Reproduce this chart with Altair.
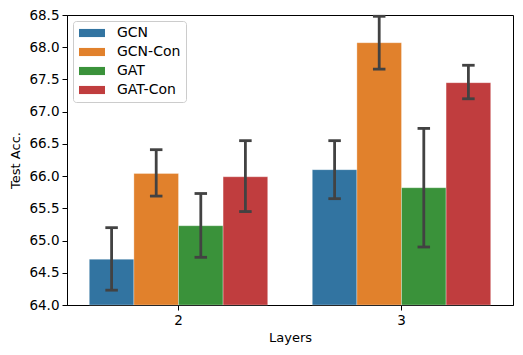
import altair as alt
import pandas as pd

layers = ["2", "3"]
models = ["GCN", "GCN-Con", "GAT", "GAT-Con"]
colors = ["#3274a1", "#e1812c", "#3a923a", "#c03d3e"]
mean_2 = [64.71, 66.04, 65.23, 65.99]
low_2 = [64.23, 65.69, 64.74, 65.45]
high_2 = [65.20, 66.41, 65.73, 66.55]
mean_3 = [66.10, 68.07, 65.82, 67.45]
low_3 = [65.65, 67.66, 64.90, 67.20]
high_3 = [66.55, 68.48, 66.74, 67.72]
y_ticks = [64.0, 64.5, 65.0, 65.5, 66.0, 66.5, 67.0, 67.5, 68.0, 68.5]

rows = []
for lay, means, lows, highs in [("2", mean_2, low_2, high_2), ("3", mean_3, low_3, high_3)]:
    for m, v, lo, hi in zip(models, means, lows, highs):
        rows.append({"Layers": lay, "model": m, "acc": v, "lo": lo, "hi": hi})
df = pd.DataFrame(rows)

FONT = "DejaVu Sans"
FS = 13
TFS = 13.5
LFS = 14

x_axis = alt.Axis(labelAngle=0, labelFont=FONT, labelFontSize=TFS, labelColor="black",
                  titleFont=FONT, titleFontSize=FS, titleFontWeight="normal", titleColor="black",
                  tickColor="black", domainColor="black", tickSize=5, labelPadding=3,
                  titlePadding=5, grid=False)
y_axis = alt.Axis(values=y_ticks, format=".1f", labelFont=FONT, labelFontSize=TFS,
                  labelColor="black", titleFont=FONT, titleFontSize=FS,
                  titleFontWeight="normal", titleColor="black", tickColor="black",
                  domainColor="black", tickSize=5, labelPadding=3, titlePadding=6,
                  grid=False, labelOverlap=False)
x_scale = alt.Scale(paddingInner=0.2, paddingOuter=0.1)
y_scale = alt.Scale(domain=[64.0, 68.5], zero=False, nice=False)
xo_enc = alt.XOffset("model:N", sort=models, scale=alt.Scale(paddingInner=0, paddingOuter=0))


def xe():
    return alt.X("Layers:N", sort=layers, title="Layers", scale=x_scale, axis=x_axis)


def ye(field):
    return alt.Y(field, scale=y_scale, title="Test Acc.", axis=y_axis)


bars = alt.Chart(df).mark_bar(stroke="white", strokeWidth=0.6, strokeOpacity=0.5).encode(
    x=xe(),
    xOffset=xo_enc,
    y=ye("acc:Q"),
    y2=alt.datum(64.0),
    color=alt.Color("model:N", sort=models, scale=alt.Scale(domain=models, range=colors),
                    legend=alt.Legend(title=None, orient="none", legendX=6, legendY=6,
                                      labelFont=FONT, labelFontSize=LFS, labelColor="black",
                                      symbolType="M-1.86,-0.58H1.86V0.58H-1.86Z", symbolSize=196,
                                      symbolStrokeWidth=0, symbolOpacity=1, symbolOffset=7,
                                      labelOffset=18, rowPadding=5, padding=5,
                                      strokeColor="#cccccc", fillColor="white", cornerRadius=3)),
)

err = alt.Chart(df).mark_rule(color="#424242", strokeWidth=2.8).encode(
    x=xe(),
    xOffset=xo_enc,
    y=ye("lo:Q"),
    y2="hi:Q",
)
cap_lo = alt.Chart(df).mark_tick(color="#424242", thickness=2.8, size=12.5, opacity=1).encode(
    x=xe(),
    xOffset=xo_enc,
    y=ye("lo:Q"),
)
cap_hi = alt.Chart(df).mark_tick(color="#424242", thickness=2.8, size=12.5, opacity=1).encode(
    x=xe(),
    xOffset=xo_enc,
    y=ye("hi:Q"),
)

chart = alt.layer(bars, err, cap_lo, cap_hi).properties(
    width=446, height=290,
    autosize=alt.AutoSizeParams(type="none"),
    padding={"left": 59, "top": 7, "right": 2, "bottom": 42},
).configure_view(stroke="black", strokeWidth=1)

chart.save("out.html", embed_options={"renderer": "svg", "actions": False})
